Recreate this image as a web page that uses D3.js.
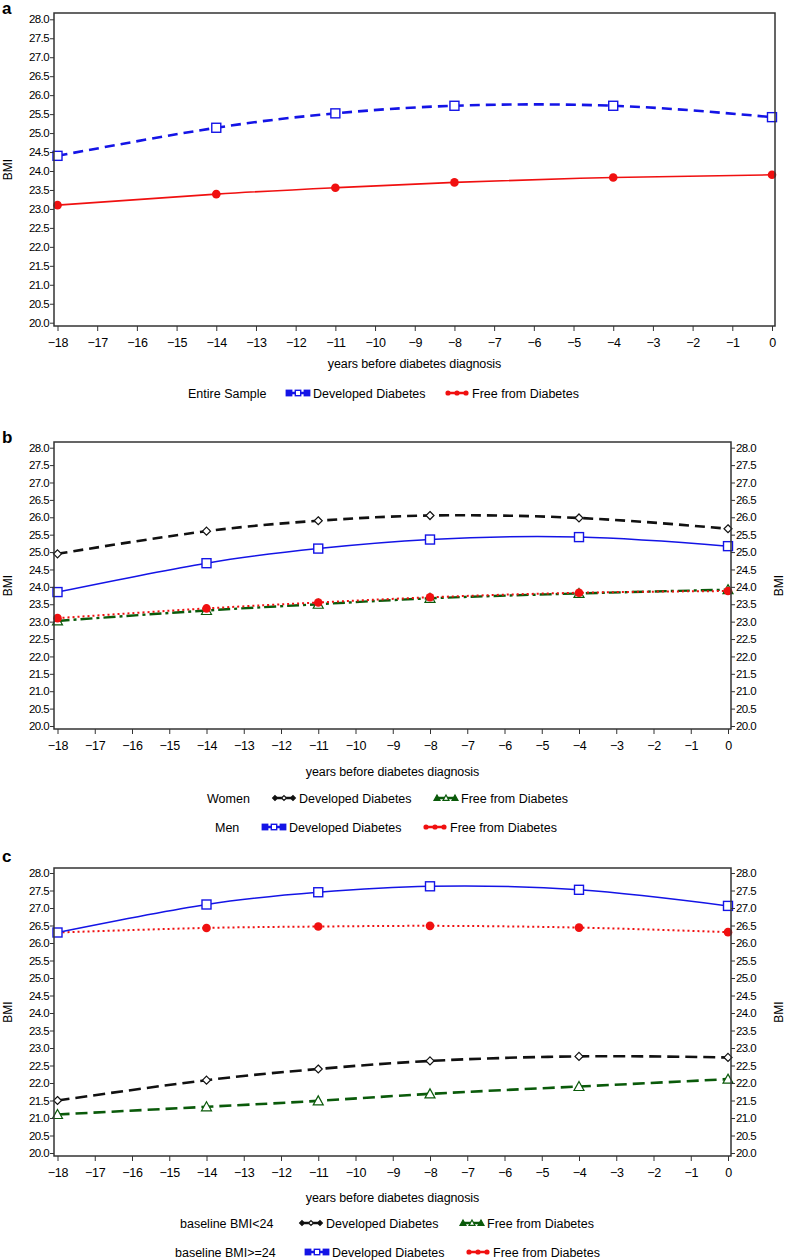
<!DOCTYPE html>
<html><head><meta charset="utf-8">
<script src="https://cdn.jsdelivr.net/npm/d3@7"></script>
<style>
body{margin:0;background:#fff;}
text{font-family:"Liberation Sans",Arial,sans-serif;}
</style></head>
<body><svg id="c" width="787" height="1260"></svg>
<script>
const years = [-18, -14, -11, -8, -4, 0];
const xTicks = d3.range(-18, 1, 1);
const yTicks = d3.range(20, 28.01, 0.5);

// Panel a: entire sample
const aDeveloped = [24.40, 25.14, 25.52, 25.72, 25.72, 25.42];
const aFree = [23.10, 23.39, 23.56, 23.70, 23.83, 23.90];
// Panel b: by sex
const bWomenDeveloped = [24.95, 25.60, 25.90, 26.05, 25.98, 25.67];
const bWomenFree = [23.02, 23.32, 23.50, 23.67, 23.81, 23.92];
const bMenDeveloped = [23.85, 24.68, 25.10, 25.36, 25.43, 25.17];
const bMenFree = [23.10, 23.38, 23.55, 23.70, 23.83, 23.88];
// Panel c: by baseline BMI
const cLowDeveloped = [21.50, 22.08, 22.40, 22.63, 22.76, 22.73];
const cLowFree = [21.10, 21.32, 21.49, 21.69, 21.90, 22.11];
const cHighDeveloped = [26.30, 27.10, 27.45, 27.62, 27.52, 27.06];
const cHighFree = [26.30, 26.43, 26.47, 26.49, 26.44, 26.31];

const xTitle = "years before diabetes diagnosis";
const yTitle = "BMI";

const svg = d3.select("#c");
const BLUE = "#1414e6", RED = "#f01010", GREEN = "#0a5a0a", BLACK = "#111";
const fmtX = d => d < 0 ? "\u2212" + Math.abs(d) : String(d);

function marker(g, type, color, x, y, s, filled) {
  s = s || 1;
  const fill = filled ? color : "#fff";
  if (type === "square") {
    g.append("rect").attr("x", x - 4.5*s).attr("y", y - 4.5*s).attr("width", 9*s).attr("height", 9*s)
      .attr("fill", fill).attr("stroke", color).attr("stroke-width", 1.4);
  } else if (type === "circle") {
    g.append("circle").attr("cx", x).attr("cy", y).attr("r", 4.3*s).attr("fill", color);
  } else if (type === "diamond") {
    const r = 4*s;
    g.append("path").attr("d", `M${x},${y-r}L${x+r},${y}L${x},${y+r}L${x-r},${y}Z`)
      .attr("fill", fill).attr("stroke", color).attr("stroke-width", 1.2);
  } else if (type === "triangle") {
    const r = 5*s;
    g.append("path").attr("d", `M${x},${y-r}L${x+r},${y+r*0.8}L${x-r},${y+r*0.8}Z`)
      .attr("fill", fill).attr("stroke", color).attr("stroke-width", 1.2);
  }
}

function panel(opt) {
  const g = svg.append("g");
  const x = d3.scaleLinear().domain([-18, 0]).range([57.5, opt.x0]);
  const y = d3.scaleLinear().domain([20, 28]).range([opt.y20, opt.y28]);
  const L = 54, R = opt.right, T = opt.top, B = opt.bottom;

  g.append("text").attr("x", 2).attr("y", opt.labelY).attr("font-size", 17).attr("font-weight", "bold").text(opt.label);

  // series
  const line = d3.line().x((d, i) => x(years[i])).y(d => y(d)).curve(d3.curveNatural);
  opt.series.forEach(s => {
    g.append("path").attr("d", line(s.values)).attr("fill", "none").attr("stroke", s.color)
      .attr("stroke-width", s.width).attr("stroke-dasharray", s.dash || null);
  });
  opt.series.forEach(s => {
    s.values.forEach((v, i) => marker(g, s.marker, s.color, x(years[i]), y(v)));
  });

  // frame
  g.append("rect").attr("x", L).attr("y", T).attr("width", R - L).attr("height", B - T)
    .attr("fill", "none").attr("stroke", "#333").attr("stroke-width", 1.5);

  // left y axis
  const ya = g.append("g").attr("transform", `translate(${L},0)`)
    .call(d3.axisLeft(y).tickValues(yTicks).tickFormat(d3.format(".1f")).tickSize(4).tickPadding(1));
  ya.select(".domain").remove();
  ya.selectAll("text").attr("font-size", 11.5).attr("font-family", "Liberation Sans, Arial").attr("letter-spacing", "-0.6");
  ya.selectAll("line").attr("stroke", "#333");
  g.append("text").attr("transform", `translate(12,${(T + B) / 2}) rotate(-90)`).attr("text-anchor", "middle")
    .attr("font-size", 12).text(yTitle);

  if (opt.rightAxis) {
    const yr = g.append("g").attr("transform", `translate(${R},0)`)
      .call(d3.axisRight(y).tickValues(yTicks).tickFormat(d3.format(".1f")).tickSize(4).tickPadding(1));
    yr.select(".domain").remove();
    yr.selectAll("text").attr("font-size", 11.5).attr("font-family", "Liberation Sans, Arial").attr("letter-spacing", "-0.6");
    yr.selectAll("line").attr("stroke", "#333");
    g.append("text").attr("transform", `translate(783,${(T + B) / 2}) rotate(-90)`).attr("text-anchor", "middle")
      .attr("font-size", 12).text(yTitle);
  }

  // x axis
  const xa = g.append("g").attr("transform", `translate(0,${B})`)
    .call(d3.axisBottom(x).tickValues(xTicks).tickFormat(fmtX).tickSize(5).tickPadding(7));
  xa.select(".domain").remove();
  xa.selectAll("text").attr("font-size", 12.5).attr("font-family", "Liberation Sans, Arial").attr("letter-spacing", "-0.3");
  xa.selectAll("line").attr("stroke", "#333");

  g.append("text").attr("x", (L + R) / 2).attr("y", opt.titleY).attr("text-anchor", "middle").attr("font-size", 12.5)
    .attr("letter-spacing", "-0.1").text(xTitle);

  // legend rows
  opt.legend.forEach(row => {
    g.append("text").attr("x", row.labelX).attr("y", row.y + 4.5).attr("font-size", 12.5).text(row.label);
    row.items.forEach(it => {
      const lg = g.append("g");
      lg.append("line").attr("x1", it.sx + 2).attr("x2", it.sx + 22).attr("y1", row.y).attr("y2", row.y)
        .attr("stroke", it.s.color).attr("stroke-width", 2.5);
      [[3, true], [12, false], [21, true]].forEach(([dx, f]) => marker(lg, it.s.marker, it.s.color, it.sx + dx, row.y, 0.6, f));
      g.append("text").attr("x", it.sx + 27).attr("y", row.y + 4.5).attr("font-size", 12.5).text(it.text);
    });
  });
}

// Panel a
const sADev = {values: aDeveloped, color: BLUE, width: 2.6, dash: "10,6", marker: "square"};
const sAFree = {values: aFree, color: RED, width: 1.6, marker: "circle"};
panel({
  label: "a", labelY: 14, top: 13, bottom: 326, right: 775, x0: 772, y20: 322.7, y28: 19.3,
  titleY: 368, rightAxis: false,
  series: [sADev, sAFree],
  legend: [{y: 393, label: "Entire Sample", labelX: 188, items: [
    {sx: 286, s: sADev, text: "Developed Diabetes"},
    {sx: 445, s: sAFree, text: "Free from Diabetes"}]}]
});

// Panel b
const sBWD = {values: bWomenDeveloped, color: BLACK, width: 2.6, dash: "10,6", marker: "diamond"};
const sBWF = {values: bWomenFree, color: GREEN, width: 2.4, dash: "12,4,3,4", marker: "triangle"};
const sBMD = {values: bMenDeveloped, color: BLUE, width: 1.5, marker: "square"};
const sBMF = {values: bMenFree, color: RED, width: 2, dash: "2,3", marker: "circle"};
panel({
  label: "b", labelY: 443, top: 442, bottom: 729, right: 731, x0: 728, y20: 726, y28: 447.7,
  titleY: 776, rightAxis: true,
  series: [sBWF, sBMF, sBMD, sBWD],
  legend: [
    {y: 798, label: "Women", labelX: 207, items: [
      {sx: 272, s: sBWD, text: "Developed Diabetes"},
      {sx: 434, s: sBWF, text: "Free from Diabetes"}]},
    {y: 827, label: "Men", labelX: 215, items: [
      {sx: 262, s: sBMD, text: "Developed Diabetes"},
      {sx: 423, s: sBMF, text: "Free from Diabetes"}]}]
});

// Panel c
const sCLD = {values: cLowDeveloped, color: BLACK, width: 2.6, dash: "12,6", marker: "diamond"};
const sCLF = {values: cLowFree, color: GREEN, width: 2.6, dash: "12,6", marker: "triangle"};
const sCHD = {values: cHighDeveloped, color: BLUE, width: 1.5, marker: "square"};
const sCHF = {values: cHighFree, color: RED, width: 2, dash: "2,3", marker: "circle"};
panel({
  label: "c", labelY: 862, top: 868, bottom: 1156, right: 731, x0: 728, y20: 1153, y28: 873,
  titleY: 1202, rightAxis: true,
  series: [sCLF, sCLD, sCHF, sCHD],
  legend: [
    {y: 1223, label: "baseline BMI<24", labelX: 180, items: [
      {sx: 299, s: sCLD, text: "Developed Diabetes"},
      {sx: 460, s: sCLF, text: "Free from Diabetes"}]},
    {y: 1252, label: "baseline BMI>=24", labelX: 175, items: [
      {sx: 305, s: sCHD, text: "Developed Diabetes"},
      {sx: 466, s: sCHF, text: "Free from Diabetes"}]}]
});
</script></body></html>
